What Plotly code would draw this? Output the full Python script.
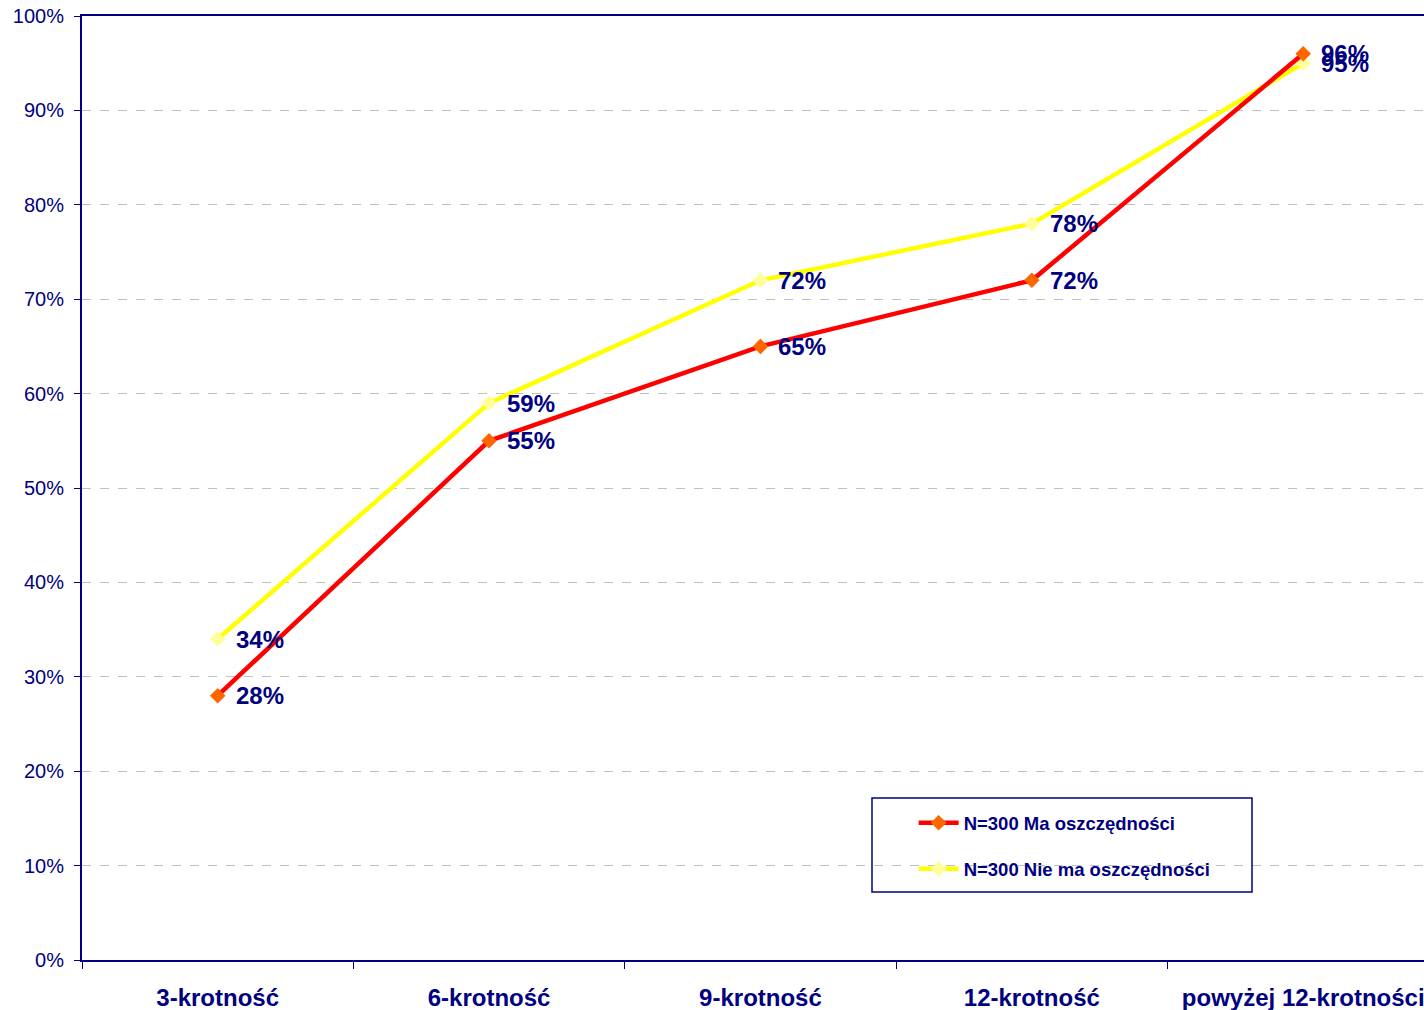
import plotly.graph_objects as go

categories = ["3-krotność", "6-krotność", "9-krotność", "12-krotność", "powyżej 12-krotności"]
ma_oszczednosci = [28, 55, 65, 72, 96]
nie_ma_oszczednosci = [34, 59, 72, 78, 95]
y_ticks = [0, 10, 20, 30, 40, 50, 60, 70, 80, 90, 100]

NAVY = "#000080"
FONT = "Liberation Sans, Arial, sans-serif"

# series: name, values, line colour, marker colour, legend rank
series = [
    ("N=300 Nie ma oszczędności", nie_ma_oszczednosci, "#FFFF00", "#FFFF99", 2),
    ("N=300 Ma oszczędności", ma_oszczednosci, "#FF0000", "#FF6600", 1),
]

fig = go.Figure()
annotations = []

for i, (name, vals, line_col, mark_col, rank) in enumerate(series):
    fig.add_trace(go.Scatter(
        x=categories,
        y=vals,
        name=name,
        legendgroup=f"g{i}",
        legendrank=rank,
        mode="lines+markers",
        line=dict(color=line_col, width=4.5),
        marker=dict(symbol="diamond", size=12, color=mark_col,
                    line=dict(width=0)),
        cliponaxis=False,
    ))
    # data labels to the right of each point
    for c, v in zip(categories, vals):
        annotations.append(dict(
            x=c, y=v, xref="x", yref="y",
            text=f"{v}%", showarrow=False,
            xanchor="left", yanchor="middle", xshift=16,
            font=dict(family=FONT, size=24, color=NAVY, weight="bold"),
        ))

fig.update_layout(
    width=1424,
    height=1010,
    margin=dict(l=82, r=0, t=16, b=50),
    plot_bgcolor="white",
    paper_bgcolor="white",
    font=dict(family=FONT, color=NAVY),
    showlegend=True,
    annotations=annotations,
    legend=dict(
        x=0.6197, y=0.165, xanchor="left", yanchor="top",
        bgcolor="rgba(0,0,0,0)",
        borderwidth=0,
        font=dict(family=FONT, size=18.5, color=NAVY, weight="bold"),
        traceorder="grouped",
        tracegroupgap=19,
        itemwidth=40,
    ),
    shapes=[dict(
        type="rect", xref="paper", yref="paper",
        x0=(872 - 82) / 1342, x1=(1252 - 82) / 1342,
        y0=(960 - 892) / 944, y1=(960 - 798) / 944,
        line=dict(color=NAVY, width=1.5), fillcolor="rgba(0,0,0,0)",
    )],
)

fig.update_xaxes(
    type="category",
    range=[-0.5, 4.445],
    showline=True, linecolor=NAVY, linewidth=2, mirror=True,
    ticks="outside", tickson="boundaries", ticklen=7, tickcolor=NAVY, tickwidth=1,
    ticklabelstandoff=15,
    tickfont=dict(family=FONT, size=24, color=NAVY, weight="bold"),
    showgrid=False,
)

fig.update_yaxes(
    range=[0, 100],
    tickvals=y_ticks,
    ticktext=[f"{v}%" for v in y_ticks],
    showline=True, linecolor=NAVY, linewidth=2,
    ticks="outside", ticklen=6, tickcolor=NAVY,
    ticklabelstandoff=6,
    tickfont=dict(family=FONT, size=20, color=NAVY),
    showgrid=True, gridcolor="#C0C0C0", griddash="dash", gridwidth=1,
    zeroline=False,
)

fig.write_html("out.html", config={"displayModeBar": False},
               post_script="document.body.style.margin='0';")
